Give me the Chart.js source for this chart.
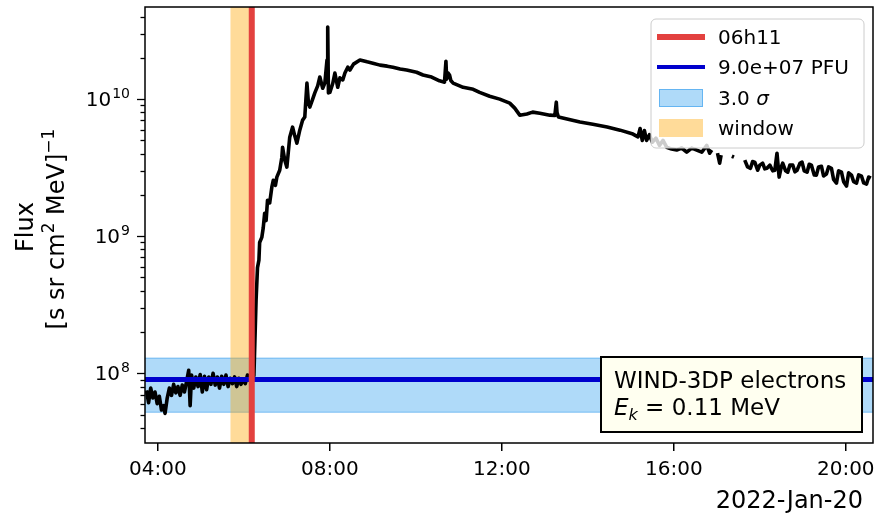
<!DOCTYPE html>
<html>
<head>
<meta charset="utf-8">
<script src="https://cdn.jsdelivr.net/npm/chart.js@4.4.0/dist/chart.umd.min.js"></script>
<style>
  html, body { margin: 0; padding: 0; background: #fff; }
  #grafico { display: block; }
</style>
</head>
<body>
<canvas id="grafico" width="876" height="519"></canvas>
<script>
// WIND-3DP electrons, 0.11 MeV, 2022-Jan-20
const preTimes = ['03:44','03:47','03:50','03:53','03:56','03:59',
  '04:02','04:05','04:08','04:10','04:13','04:16','04:19','04:22','04:25','04:28','04:31','04:34','04:37','04:40','04:43','04:45','04:47','04:50','04:53','04:56','04:59',
  '05:02','05:05','05:08','05:11','05:14','05:17','05:20','05:23','05:26','05:29','05:32','05:35','05:38','05:41','05:44','05:47','05:50','05:53','05:56','05:59',
  '06:02','06:05','06:08','06:14']
const preFlux = [7.5e7, 6.1e7, 7.8e7, 6.6e7, 7.3e7, 6.0e7,
  6.8e7, 5.4e7, 5.8e7, 5.1e7, 6.6e7, 7.8e7, 6.9e7, 8.3e7, 7.2e7, 8.0e7, 6.9e7, 8.2e7, 7.3e7, 8.7e7, 1.05e8, 5.8e7, 9.7e7, 7.8e7, 9.4e7, 8.0e7, 9.8e7,
  7.3e7, 9.5e7, 7.6e7, 9.4e7, 8.3e7, 1.0e8, 8.2e7, 9.4e7, 7.8e7, 9.5e7, 8.3e7, 9.7e7, 8.0e7, 9.2e7, 8.4e7, 9.4e7, 8.0e7, 9.2e7, 8.3e7, 9.0e7,
  8.4e7, 9.7e7, 8.9e7, 9.6e7]

const riseTimes = ['06:17','06:19','06:21','06:22','06:25','06:27','06:29','06:31','06:33','06:36','06:39','06:41','06:44','06:46','06:50','06:53','06:54','06:57',
  '07:00','07:04','07:08','07:11','07:14','07:18','07:22','07:25','07:28','07:30','07:32','07:36','07:39','07:43','07:46','07:50','07:53','07:56','07:57','07:58',
  '08:00','08:04','08:07','08:11','08:14','08:18','08:21','08:25','08:28','08:33']
const riseFlux = [3.4e8, 5.9e8, 6.7e8, 9.0e8, 9.8e8, 1.15e9, 1.47e9, 1.30e9, 1.83e9, 1.75e9, 2.28e9, 2.56e9, 2.35e9, 2.70e9, 3.03e9, 3.77e9, 4.46e9, 3.6e9,
  3.19e9, 5.28e9, 6.25e9, 5.4e9, 4.77e9, 5.94e9, 7.03e9, 7.4e9, 1.31e10, 9.5e9, 8.75e9, 1.0e10, 1.11e10, 1.25e10, 1.45e10, 1.2e10, 1.31e10, 1.93e10, 3.36e10, 1.11e10,
  1.12e10, 1.30e10, 1.55e10, 1.22e10, 1.43e10, 1.38e10, 1.55e10, 1.71e10, 1.63e10, 1.80e10]

const decayTimes = ['08:42','08:52','09:00','09:10','09:20','09:28','09:38','09:47',
  '10:01','10:10','10:22','10:33','10:40','10:42','10:43','10:45','10:47','10:49','10:52',
  '11:06','11:20','11:29','11:43','11:57','12:11','12:18','12:25','12:35','12:43','12:53',
  '13:07','13:14','13:16','13:17','13:19','13:31','13:49','14:07','14:27','14:45','15:03']
const decayFlux = [1.93e10, 1.87e10, 1.83e10, 1.77e10, 1.74e10, 1.71e10, 1.66e10, 1.63e10,
  1.57e10, 1.50e10, 1.45e10, 1.36e10, 1.33e10, 1.89e10, 1.40e10, 1.55e10, 1.50e10, 1.36e10, 1.31e10,
  1.22e10, 1.18e10, 1.12e10, 1.05e10, 1.0e10, 9.35e9, 8.6e9, 7.64e9, 7.8e9, 8.04e9, 7.9e9,
  7.64e9, 7.6e9, 9.5e9, 8.0e9, 7.4e9, 7.15e9, 6.8e9, 6.55e9, 6.25e9, 5.94e9, 5.56e9]

const lateTimes = ['15:10','15:13','15:16','15:19','15:22','15:26','15:30','15:35','15:40','15:45','15:50','15:57',
  '16:04','16:11','16:18','16:25','16:32','16:39','16:46','16:50','16:53','16:56',
  '17:01','17:04','17:06','17:09','17:21','17:24','17:27','17:39','17:43','17:47','17:50','17:53','17:57',
  '18:00','18:04','18:07','18:10','18:14','18:18','18:21','18:24','18:27','18:30','18:32','18:36','18:39','18:42','18:46','18:49','18:52','18:56','18:59',
  '19:02','19:06','19:09','19:12','19:16','19:19','19:22','19:26','19:29','19:33','19:36','19:40','19:43','19:47','19:50','19:54','19:57',
  '20:01','20:04','20:08','20:11','20:15','20:18','20:22','20:25','20:29','20:32','20:35']
const lateFlux = [5.3e9, 6.1e9, 5.0e9, 5.9e9, 5.0e9, 5.5e9, 4.85e9, 5.2e9, 4.6e9, 5.0e9, 4.46e9, 4.32e9,
  4.25e9, 4.4e9, 4.1e9, 4.39e9, 4.25e9, 4.1e9, 4.6e9, 4.03e9, 4.25e9, null,
  4.03e9, 3.41e9, 3.9e9, null, 3.83e9, 3.77e9, null, 3.59e9, 3.2e9, 3.13e9, 3.5e9, 3.47e9, 3.03e9,
  3.3e9, 3.41e9, 3.1e9, 3.13e9, 3.3e9, 3.0e9, 3.03e9, 4.03e9, 2.70e9, 3.2e9, 3.41e9, 3.0e9, 2.93e9, 3.3e9, 3.30e9, 2.95e9, 3.03e9, 3.4e9, 3.47e9,
  3.0e9, 2.93e9, 3.35e9, 3.30e9, 2.8e9, 2.79e9, 3.2e9, 3.24e9, 2.75e9, 2.84e9, 3.2e9, 3.13e9, 2.6e9, 2.44e9, 3.0e9, 2.93e9, 2.5e9,
  2.32e9, 2.9e9, 2.79e9, 2.5e9, 2.44e9, 2.8e9, 2.74e9, 2.45e9, 2.40e9, 2.7e9, 2.65e9]

const eventTime = '06:11'
const windowRange = ['05:41', '06:11']
const thresholdFlux = 9.0e7
const sigmaBand = [5.2e7, 1.29e8]
const xRange = ['03:42', '20:38']
const yRange = [3.1e7, 4.7e10]
const xTickTimes = ['04:00', '08:00', '12:00', '16:00', '20:00']
const yTickPowers = [8, 9, 10]
const legendLabels = ['06h11', '9.0e+07 PFU', '3.0 ', 'window']

const FONT = '"DejaVu Sans"'
const redLine = '#e3413f', blueLine = '#0000cd'
const sigmaFill = 'rgba(64,168,240,0.42)', sigmaEdge = 'rgba(40,150,235,0.55)'
const windowFill = 'rgba(255,165,0,0.40)'

const toHours = t => { const [h, m] = t.split(':').map(Number); return h + m / 60 }

const allTimes = [...preTimes, ...riseTimes, ...decayTimes, ...lateTimes]
const allFlux = [...preFlux, ...riseFlux, ...decayFlux, ...lateFlux]
const fluxPoints = allTimes.map((t, i) => ({ x: toHours(t), y: allFlux[i] }))

const xMin = toHours(xRange[0]), xMax = toHours(xRange[1])
const evH = toHours(eventTime)
const xTickHours = xTickTimes.map(toHours)

const flat = (v) => [{ x: xMin, y: v }, { x: xMax, y: v }]

const extras = {
    id: 'extras',
    afterDraw(chart) {
        const { ctx, chartArea: a, scales: { y } } = chart
        ctx.save()
        ctx.fillStyle = '#000'
        ctx.strokeStyle = '#000'

        // y ticks (major + minor)
        ctx.lineWidth = 1.3
        for (let p = 7; p <= 10; p++) {
            for (let m = 1; m <= 9; m++) {
                const v = m * Math.pow(10, p)
                if (v < yRange[0] || v > yRange[1]) continue
                const py = Math.round(y.getPixelForValue(v)) + 0.5
                const len = m === 1 ? 8 : 4.5
                ctx.beginPath()
                ctx.moveTo(a.left - len, py)
                ctx.lineTo(a.left, py)
                ctx.stroke()
            }
        }

        // y tick labels 10^p
        yTickPowers.forEach(p => {
            const py = y.getPixelForValue(Math.pow(10, p))
            ctx.font = '20px ' + FONT
            const wb = ctx.measureText('10').width
            ctx.font = '14px ' + FONT
            const we = ctx.measureText(String(p)).width
            const x0 = a.left - 16 - wb - we
            ctx.textAlign = 'left'
            ctx.textBaseline = 'alphabetic'
            ctx.font = '20px ' + FONT
            ctx.fillText('10', x0, py + 7)
            ctx.font = '14px ' + FONT
            ctx.fillText(String(p), x0 + wb + 1, py - 1)
        })

        // frame
        ctx.lineWidth = 1.5
        ctx.strokeRect(a.left, a.top, a.right - a.left, a.bottom - a.top)

        // y title
        ctx.save()
        ctx.translate(33, 227)
        ctx.rotate(-Math.PI / 2)
        ctx.textAlign = 'center'
        ctx.textBaseline = 'alphabetic'
        ctx.font = '24px ' + FONT
        ctx.fillText('Flux', 0, 0)
        ctx.restore()

        ctx.save()
        ctx.translate(64, 229)
        ctx.rotate(-Math.PI / 2)
        ctx.textAlign = 'left'
        const parts = [['[s sr cm', 24, 0], ['2', 17, -10], [' MeV]', 24, 0], ['\u22121', 17, -10]]
        let total = 0
        parts.forEach(([t, s]) => { ctx.font = s + 'px ' + FONT; total += ctx.measureText(t).width })
        let cx = -total / 2
        parts.forEach(([t, s, dy]) => {
            ctx.font = s + 'px ' + FONT
            ctx.fillText(t, cx, dy)
            cx += ctx.measureText(t).width
        })
        ctx.restore()

        // date label
        ctx.font = '24px ' + FONT
        ctx.textAlign = 'right'
        ctx.fillText('2022-Jan-20', 863, 508)

        // legend
        const lx = 651, ly = 19, lw = 213, lh = 129
        ctx.beginPath()
        ctx.roundRect(lx, ly, lw, lh, 5)
        ctx.fillStyle = 'rgba(255,255,255,0.8)'
        ctx.fill()
        ctx.strokeStyle = '#cccccc'
        ctx.lineWidth = 1
        ctx.stroke()

        const rows = [37, 67, 98, 128]
        ctx.lineCap = 'butt'
        ctx.strokeStyle = redLine; ctx.lineWidth = 6
        ctx.beginPath(); ctx.moveTo(657, rows[0]); ctx.lineTo(705, rows[0]); ctx.stroke()
        ctx.strokeStyle = blueLine; ctx.lineWidth = 4
        ctx.beginPath(); ctx.moveTo(657, rows[1]); ctx.lineTo(705, rows[1]); ctx.stroke()
        ctx.fillStyle = sigmaFill; ctx.fillRect(659, rows[2] - 9, 44, 18)
        ctx.strokeStyle = sigmaEdge; ctx.lineWidth = 1; ctx.strokeRect(659.5, rows[2] - 8.5, 43, 17)
        ctx.fillStyle = windowFill; ctx.fillRect(659, rows[3] - 9, 44, 18)

        ctx.fillStyle = '#000'
        ctx.textAlign = 'left'
        ctx.textBaseline = 'alphabetic'
        ctx.font = '20px ' + FONT
        legendLabels.forEach((t, i) => ctx.fillText(t, 718, rows[i] + 7))
        const w3 = ctx.measureText(legendLabels[2]).width
        ctx.font = 'italic 20px ' + FONT
        ctx.fillText('\u03c3', 718 + w3, rows[2] + 7)

        // annotation box
        ctx.fillStyle = '#fffff0'
        ctx.fillRect(601, 357, 261, 75)
        ctx.strokeStyle = '#000'; ctx.lineWidth = 2
        ctx.strokeRect(601, 357, 261, 75)
        ctx.fillStyle = '#000'
        ctx.font = '23px ' + FONT
        ctx.fillText('WIND-3DP electrons', 614, 388)
        ctx.font = 'italic 23px ' + FONT
        ctx.fillText('E', 614, 415)
        let ax = 614 + ctx.measureText('E').width
        ctx.font = 'italic 16px ' + FONT
        ctx.fillText('k', ax, 420)
        ax += ctx.measureText('k').width
        ctx.font = '23px ' + FONT
        ctx.fillText(' = 0.11 MeV', ax, 415)

        ctx.restore()
    }
}

const grafico = document.getElementById('grafico')

new Chart(grafico, {
    type: 'line',
    data: {
        datasets: [
            { label: 'sigmaLo', data: flat(sigmaBand[0]), borderColor: sigmaEdge, borderWidth: 1, fill: false, order: 6 },
            { label: '3.0 sigma', data: flat(sigmaBand[1]), borderColor: sigmaEdge, borderWidth: 1, fill: '-1', backgroundColor: sigmaFill, order: 5 },
            { label: 'window', data: [{ x: toHours(windowRange[0]), y: yRange[1] }, { x: toHours(windowRange[1]), y: yRange[1] }],
              borderWidth: 0, borderColor: 'rgba(0,0,0,0)', fill: 'start', backgroundColor: windowFill, order: 4 },
            { label: 'flux', data: fluxPoints, borderColor: '#000', borderWidth: 3.6, spanGaps: false, borderJoinStyle: 'round', order: 3 },
            { label: '9.0e+07 PFU', data: flat(thresholdFlux), borderColor: blueLine, borderWidth: 5, order: 2 },
            { label: '06h11', data: [{ x: evH, y: yRange[0] }, { x: evH, y: yRange[1] }], borderColor: redLine, borderWidth: 6, order: 1 }
        ]
    },
    options: {
        responsive: false,
        animation: false,
        devicePixelRatio: 1,
        elements: { point: { radius: 0 }, line: { tension: 0 } },
        datasets: { line: { clip: 0 } },
        layout: { padding: { left: 145, right: 3, top: 7, bottom: 0 } },
        plugins: { legend: { display: false }, tooltip: { enabled: false } },
        scales: {
            x: {
                type: 'linear',
                min: xMin,
                max: xMax,
                afterBuildTicks: s => { s.ticks = xTickHours.map(v => ({ value: v })) },
                afterFit: s => { s.height = 76; s.paddingLeft = 0; s.paddingRight = 0 },
                ticks: {
                    autoSkip: false,
                    maxRotation: 0,
                    padding: 7,
                    color: '#000',
                    font: { family: 'DejaVu Sans', size: 20 },
                    callback: v => xTickTimes[xTickHours.indexOf(v)]
                },
                grid: { drawOnChartArea: false, drawTicks: true, tickLength: 8, color: '#000', lineWidth: 1.5 },
                border: { display: false }
            },
            y: {
                type: 'logarithmic',
                min: yRange[0],
                max: yRange[1],
                display: false
            }
        }
    },
    plugins: [extras]
})
</script>
</body>
</html>
